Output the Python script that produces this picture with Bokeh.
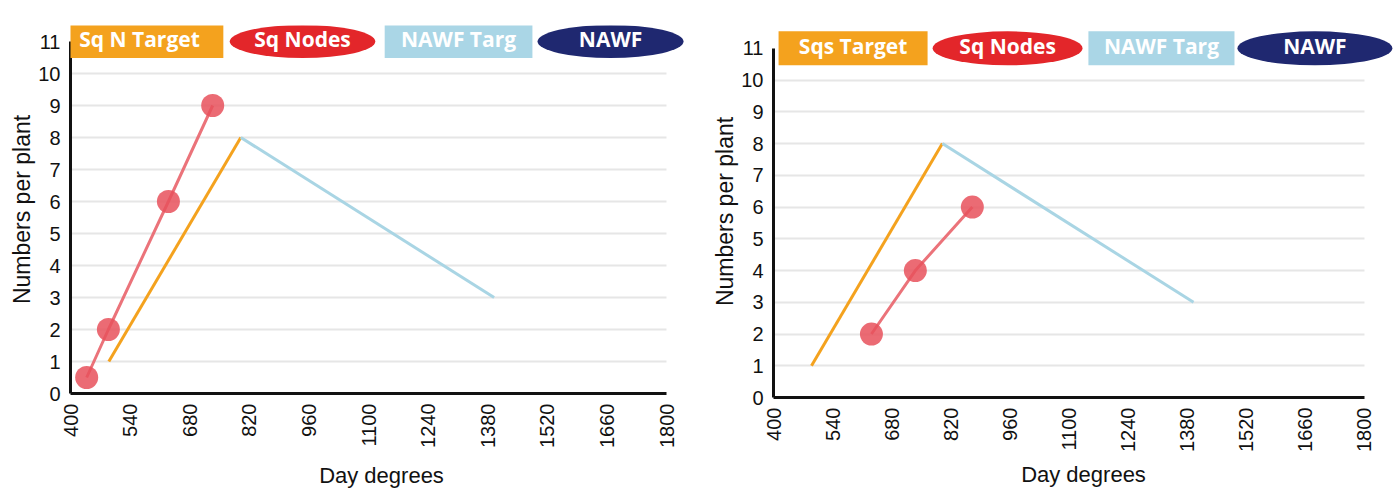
import math
from bokeh.plotting import figure
from bokeh.layouts import row
from bokeh.models import FixedTicker, BoxAnnotation, Range1d, Label
from bokeh.embed import file_html
from bokeh.resources import INLINE

# ---- data ----
x_ticks = [400, 540, 680, 820, 960, 1100, 1240, 1380, 1520, 1660, 1800]
y_ticks = list(range(0, 12))
grid_levels = list(range(1, 11))

left_legend = ["Sq N Target", "Sq Nodes", "NAWF Targ", "NAWF"]
right_legend = ["Sqs Target", "Sq Nodes", "NAWF Targ", "NAWF"]

left_target_x = [490, 800]
left_target_y = [1, 8]
left_nawf_targ_x = [800, 1395]
left_nawf_targ_y = [8, 3]
left_nodes_x = [438, 489, 630, 734]
left_nodes_y = [0.5, 2, 6, 9]

right_target_x = [490, 800]
right_target_y = [1, 8]
right_nawf_targ_x = [800, 1395]
right_nawf_targ_y = [8, 3]
right_nodes_x = [632, 736, 871]
right_nodes_y = [2, 4, 6]

# ---- styles ----
ORANGE = "#f4a21e"
RED_LEG = "#e3262a"
LIGHTBLUE = "#aad6e6"
NAVY = "#1f2870"
NODE_RED = "#e8515c"
LINE_RED = "#e9646c"
TARGET_BLUE = "#a9d5e4"
AX_FONT = "Liberation Sans"


def make_chart(frame_w, frame_h, y_top, mb_left, mb_right, x_end, x_lbl_off,
               legend, boxes, leg_h, tx, ty, nx_, ny_, bx, by):
    p = figure(frame_width=frame_w, frame_height=frame_h, output_backend="svg",
               toolbar_location=None, x_range=Range1d(400, x_end),
               y_range=Range1d(0, y_top), min_border_left=mb_left,
               min_border_top=25, min_border_bottom=100,
               min_border_right=mb_right)
    p.outline_line_color = None
    p.background_fill_color = "white"

    p.xgrid.visible = False
    p.ygrid.ticker = FixedTicker(ticks=grid_levels)
    p.ygrid.grid_line_color = "#e6e6e6"
    p.ygrid.grid_line_width = 2
    try:
        p.ygrid.cross_bounds = (400, 1800)
    except Exception:
        pass

    xa = p.xaxis[0]
    xa.ticker = FixedTicker(ticks=x_ticks)
    xa.bounds = (400, 1800)
    xa.major_label_orientation = math.pi / 2
    xa.axis_label = "Day degrees"
    ya = p.yaxis[0]
    ya.ticker = FixedTicker(ticks=y_ticks)
    ya.bounds = (0, 11)
    ya.axis_label = "Numbers per plant"
    for ax in (xa, ya):
        ax.axis_line_width = 3
        ax.axis_line_color = "#111111"
        ax.major_tick_line_color = None
        ax.minor_tick_line_color = None
        ax.major_tick_out = 0
        ax.major_tick_in = 0
        ax.minor_tick_out = 0
        ax.minor_tick_in = 0
        ax.major_label_text_font = AX_FONT
        ax.major_label_text_font_size = "20px"
        ax.major_label_text_color = "#111111"
        ax.major_label_text_line_height = 1.0
        ax.axis_label_text_font = AX_FONT
        ax.axis_label_text_font_style = "normal"
        ax.axis_label_text_color = "#111111"
        ax.axis_label_text_line_height = 1.0
    xa.axis_label_text_font_size = "22px"
    ya.axis_label_text_font_size = "23px"
    xa.major_label_standoff = 10
    xa.axis_label_standoff = x_lbl_off
    ya.major_label_standoff = 10
    ya.axis_label_standoff = 0

    # series
    p.line(tx, ty, line_color=ORANGE, line_width=3)
    p.line(bx, by, line_color=TARGET_BLUE, line_width=3)
    p.line(nx_, ny_, line_color=LINE_RED, line_width=3, line_alpha=0.9)
    p.scatter(nx_, ny_, marker="circle", size=23, fill_color=NODE_RED,
              fill_alpha=0.85, line_color=None)

    # legend (drawn as in the original: coloured boxes / ovals at the top)
    shapes = ["rect", "ellipse", "rect", "ellipse"]
    colors = [ORANGE, RED_LEG, LIGHTBLUE, NAVY]
    for (x0, x1), shape, col, lab in zip(boxes, shapes, colors, legend):
        cx = (x0 + x1) / 2.0
        if shape == "rect":
            p.add_layout(BoxAnnotation(left=x0, right=x1, bottom=11 - leg_h / 2,
                                       top=11 + leg_h / 2, fill_color=col,
                                       fill_alpha=1, line_color=None))
        else:
            p.ellipse(x=[cx], y=[11], width=[x1 - x0], height=[leg_h],
                      fill_color=col, line_color=None)
        p.add_layout(Label(x=cx, y=11.08, text=lab, text_align="center",
                           text_baseline="middle", text_color="white",
                           text_font="Open Sans",
                           text_font_style="bold", text_font_size="21px"))
    return p


p1 = make_chart(622, 368, 11.5, 70, 16, 1861, 12, left_legend,
                [(365, 759), (774, 1116), (1138, 1485), (1497, 1840)], 1.03,
                left_target_x, left_target_y, left_nodes_x, left_nodes_y,
                left_nawf_targ_x, left_nawf_targ_y)
p2 = make_chart(620, 372, 11.72, 65, 0, 1868.7, 7, right_legend,
                [(412, 765), (777, 1132), (1146, 1492), (1499, 1866)], 1.07,
                right_target_x, right_target_y, right_nodes_x, right_nodes_y,
                right_nawf_targ_x, right_nawf_targ_y)

layout = row(p1, p2)
open("out.html", "w").write(file_html(layout, INLINE))
